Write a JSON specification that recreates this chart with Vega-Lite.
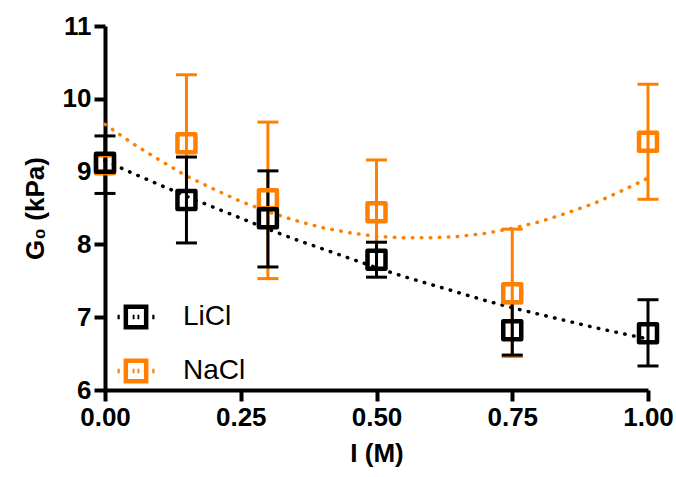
{
  "$schema": "https://vega.github.io/schema/vega-lite/v6.json",
  "width": 543,
  "height": 364,
  "autosize": "none",
  "padding": {"left": 105, "top": 26, "right": 28, "bottom": 87},
  "background": "white",
  "config": {
    "view": {"stroke": null},
    "font": "Liberation Sans",
    "axis": {
      "grid": false,
      "domainColor": "black",
      "domainWidth": 4,
      "tickColor": "black",
      "tickWidth": 4,
      "tickSize": 11,
      "labelFont": "Liberation Sans",
      "labelFontWeight": "bold",
      "labelFontSize": 26,
      "labelColor": "black",
      "labelPadding": 3,
      "labelFlush": false,
      "titleFont": "Liberation Sans",
      "titleFontWeight": "bold",
      "titleFontSize": 26,
      "titleColor": "black"
    }
  },
  "datasets": {
    "pts": [
      {"series": "NaCl", "x": 0, "y": 9.1, "lo": null, "hi": null},
      {"series": "NaCl", "x": 0.15, "y": 9.39, "lo": 8.48, "hi": 10.33},
      {"series": "NaCl", "x": 0.3, "y": 8.62, "lo": 7.53, "hi": 9.68},
      {"series": "NaCl", "x": 0.5, "y": 8.44, "lo": 7.67, "hi": 9.16},
      {"series": "NaCl", "x": 0.75, "y": 7.33, "lo": 6.46, "hi": 8.21},
      {"series": "NaCl", "x": 1.0, "y": 9.41, "lo": 8.62, "hi": 10.2},
      {"series": "LiCl", "x": 0, "y": 9.12, "lo": 8.7, "hi": 9.49},
      {"series": "LiCl", "x": 0.15, "y": 8.61, "lo": 8.02, "hi": 9.2},
      {"series": "LiCl", "x": 0.3, "y": 8.36, "lo": 7.69, "hi": 9.01},
      {"series": "LiCl", "x": 0.5, "y": 7.79, "lo": 7.55, "hi": 8.03},
      {"series": "LiCl", "x": 0.75, "y": 6.82, "lo": 6.48, "hi": 7.2},
      {"series": "LiCl", "x": 1.0, "y": 6.78, "lo": 6.33, "hi": 7.24}
    ],
    "fit": [
      {"series": "NaCl", "x": 0, "y": 9.65},
      {"series": "NaCl", "x": 0.05, "y": 9.39},
      {"series": "NaCl", "x": 0.1, "y": 9.16},
      {"series": "NaCl", "x": 0.15, "y": 8.94},
      {"series": "NaCl", "x": 0.2, "y": 8.76},
      {"series": "NaCl", "x": 0.25, "y": 8.59},
      {"series": "NaCl", "x": 0.3, "y": 8.45},
      {"series": "NaCl", "x": 0.35, "y": 8.33},
      {"series": "NaCl", "x": 0.4, "y": 8.23},
      {"series": "NaCl", "x": 0.45, "y": 8.16},
      {"series": "NaCl", "x": 0.5, "y": 8.11},
      {"series": "NaCl", "x": 0.55, "y": 8.09},
      {"series": "NaCl", "x": 0.6, "y": 8.09},
      {"series": "NaCl", "x": 0.65, "y": 8.11},
      {"series": "NaCl", "x": 0.7, "y": 8.15},
      {"series": "NaCl", "x": 0.75, "y": 8.22},
      {"series": "NaCl", "x": 0.8, "y": 8.31},
      {"series": "NaCl", "x": 0.85, "y": 8.43},
      {"series": "NaCl", "x": 0.9, "y": 8.56},
      {"series": "NaCl", "x": 0.95, "y": 8.73},
      {"series": "NaCl", "x": 1.0, "y": 8.91},
      {"series": "LiCl", "x": 0, "y": 9.15},
      {"series": "LiCl", "x": 0.05, "y": 8.98},
      {"series": "LiCl", "x": 0.1, "y": 8.82},
      {"series": "LiCl", "x": 0.15, "y": 8.66},
      {"series": "LiCl", "x": 0.2, "y": 8.51},
      {"series": "LiCl", "x": 0.25, "y": 8.36},
      {"series": "LiCl", "x": 0.3, "y": 8.21},
      {"series": "LiCl", "x": 0.35, "y": 8.07},
      {"series": "LiCl", "x": 0.4, "y": 7.94},
      {"series": "LiCl", "x": 0.45, "y": 7.81},
      {"series": "LiCl", "x": 0.5, "y": 7.68},
      {"series": "LiCl", "x": 0.55, "y": 7.56},
      {"series": "LiCl", "x": 0.6, "y": 7.45},
      {"series": "LiCl", "x": 0.65, "y": 7.34},
      {"series": "LiCl", "x": 0.7, "y": 7.23},
      {"series": "LiCl", "x": 0.75, "y": 7.13},
      {"series": "LiCl", "x": 0.8, "y": 7.04},
      {"series": "LiCl", "x": 0.85, "y": 6.95},
      {"series": "LiCl", "x": 0.9, "y": 6.86},
      {"series": "LiCl", "x": 0.95, "y": 6.78},
      {"series": "LiCl", "x": 1.0, "y": 6.7}
    ]
  },
  "encoding": {
    "x": {
      "field": "x",
      "type": "quantitative",
      "scale": {"domain": [0, 1], "nice": false, "zero": false},
      "axis": {"values": [0, 0.25, 0.5, 0.75, 1], "format": ".2f", "title": "I (M)", "titlePadding": 10}
    },
    "color": {
      "field": "series",
      "type": "nominal",
      "scale": {"domain": ["LiCl", "NaCl"], "range": ["black", "#FF8000"]},
      "legend": {
        "orient": "none",
        "legendX": 10,
        "legendY": 270,
        "title": null,
        "symbolType": "M-1,0H-0.88M-0.55,-0.55H0.55V0.55H-0.55ZM-0.18,0H-0.08M0.08,0H0.18M0.88,0H1",
        "symbolSize": 1369,
        "symbolStrokeWidth": 4.5,
        "symbolFillColor": "transparent",
        "labelFont": "Liberation Sans",
        "labelFontSize": 28,
        "labelColor": "black",
        "labelOffset": 26,
        "rowPadding": 13,
        "padding": 0
      }
    }
  },
  "layer": [
    {
      "data": {"name": "fit"},
      "mark": {"type": "line", "strokeWidth": 3.5, "strokeDash": [0.5, 8.5], "strokeCap": "round"},
      "encoding": {
        "y": {
          "field": "y",
          "type": "quantitative",
          "scale": {"domain": [6, 11], "nice": false, "zero": false},
          "axis": {"values": [6, 7, 8, 9, 10, 11], "format": "d", "title": "G₀ (kPa)", "titlePadding": 14}
        },
        "detail": {"field": "series"}
      }
    },
    {
      "data": {"name": "pts"},
      "layer": [
        {
          "mark": {"type": "rule", "strokeWidth": 3},
          "encoding": {
            "y": {"field": "lo", "type": "quantitative"},
            "y2": {"field": "hi"}
          }
        },
        {
          "mark": {"type": "point", "shape": "M-1,0L1,0", "size": 441, "strokeWidth": 3, "opacity": 1},
          "encoding": {"y": {"field": "lo", "type": "quantitative"}}
        },
        {
          "mark": {"type": "point", "shape": "M-1,0L1,0", "size": 441, "strokeWidth": 3, "opacity": 1},
          "encoding": {"y": {"field": "hi", "type": "quantitative"}}
        },
        {
          "mark": {"type": "point", "shape": "square", "size": 324, "strokeWidth": 4.5, "strokeJoin": "round", "filled": false, "opacity": 1},
          "encoding": {
            "y": {"field": "y", "type": "quantitative"}
          }
        }
      ]
    }
  ]
}
